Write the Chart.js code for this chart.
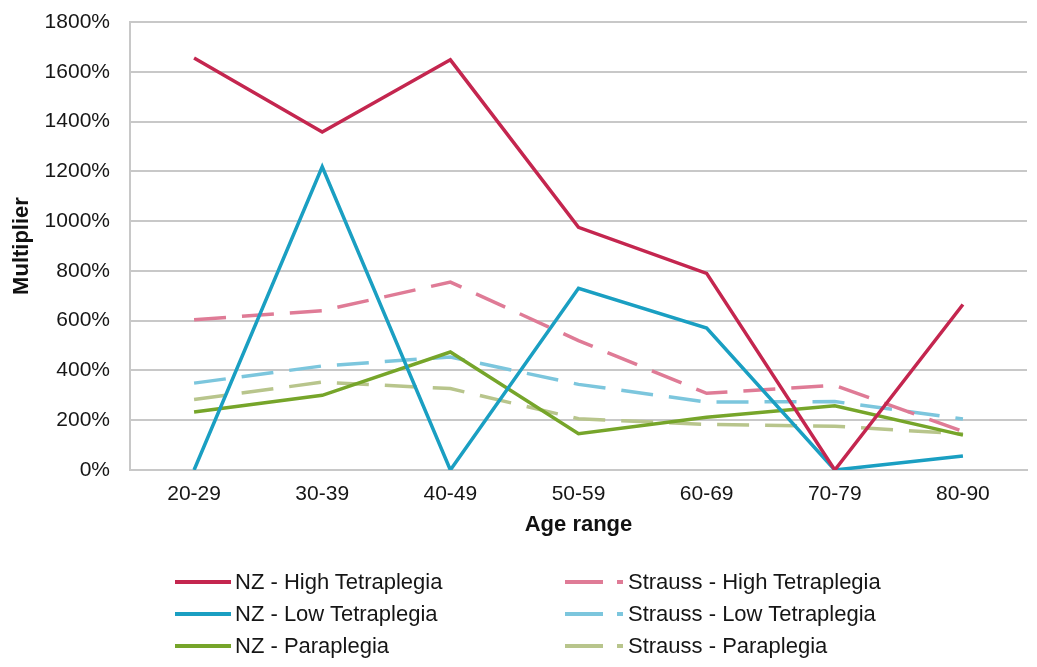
<!DOCTYPE html>
<html>
<head>
<meta charset="utf-8">
<script src="https://cdn.jsdelivr.net/npm/chart.js@4.4.1/dist/chart.umd.min.js"></script>
<style>
  html, body { margin: 0; padding: 0; background: #ffffff; }
  #wrap { position: relative; width: 1037px; height: 667px; }
  #c { position: absolute; left: 0; top: 0; }
  .leg { position: absolute; font-family: "Liberation Sans", Arial, sans-serif; font-size: 22px; color: #161616; white-space: nowrap; }
  .leg svg { position: absolute; left: 0; top: 0; }
  .leg span { position: absolute; top: 0; line-height: 26px; }
</style>
</head>
<body>
<div id="wrap">
  <canvas id="c" width="1037" height="667"></canvas>
  <div id="legend"></div>
</div>
<script>
const categories = ["20-29", "30-39", "40-49", "50-59", "60-69", "70-79", "80-90"];

const nzHighTetraplegia      = [1655, 1358, 1648, 975, 790, 0, 665];
const nzLowTetraplegia       = [0, 1218, 0, 730, 570, 0, 56];
const nzParaplegia           = [233, 300, 474, 146, 212, 258, 140];
const straussHighTetraplegia = [604, 640, 755, 520, 308, 340, 155];
const straussLowTetraplegia  = [349, 418, 454, 344, 273, 275, 205];
const straussParaplegia      = [283, 353, 327, 206, 183, 176, 145];

const seriesNames = [
  "NZ - High Tetraplegia", "NZ - Low Tetraplegia", "NZ - Paraplegia",
  "Strauss - High Tetraplegia", "Strauss - Low Tetraplegia", "Strauss - Paraplegia"
];
const yTicks = { min: 0, max: 1800, step: 200 };

const colors = ["#c4264f", "#1a9fc2", "#76a52a", "#df7b96", "#7cc6dd", "#b8c58c"];
const seriesData = [nzHighTetraplegia, nzLowTetraplegia, nzParaplegia,
                    straussHighTetraplegia, straussLowTetraplegia, straussParaplegia];

const datasets = seriesData.map((d, i) => ({
  label: seriesNames[i],
  data: d,
  borderColor: colors[i],
  backgroundColor: colors[i],
  borderWidth: 3.5,
  borderDash: i >= 3 ? [32, 16] : [],
  pointRadius: 0,
  pointHoverRadius: 0,
  tension: 0,
  fill: false,
  order: i >= 3 ? 1 : 0
}));

const gridColor = "#c8c8c8";
const tickFont = { family: "'Liberation Sans', Arial, sans-serif", size: 21 };
const titleFont = { family: "'Liberation Sans', Arial, sans-serif", size: 22, weight: "bold" };

new Chart(document.getElementById("c"), {
  type: "line",
  data: { labels: categories, datasets: datasets },
  options: {
    responsive: false,
    animation: false,
    events: [],
    layout: { padding: { left: 0, right: 10, top: 22, bottom: 129 } },
    plugins: { legend: { display: false }, tooltip: { enabled: false } },
    scales: {
      x: {
        offset: true,
        grid: { display: false, drawTicks: false },
        border: { display: true, color: gridColor, width: 2 },
        ticks: { color: "#161616", font: tickFont, padding: 12, maxRotation: 0 },
        title: { display: true, text: "Age range", color: "#111", font: titleFont, padding: { top: 0, bottom: 0 } },
        afterFit: (s) => { s.height = 68; }
      },
      y: {
        min: yTicks.min, max: yTicks.max,
        grid: { color: gridColor, lineWidth: 2, drawTicks: false },
        border: { display: true, color: gridColor, width: 2 },
        ticks: { stepSize: yTicks.step, color: "#161616", font: tickFont, padding: 20,
                 callback: (v) => v + "%" },
        title: { display: true, text: "Multiplier", color: "#111", font: titleFont, padding: { top: 9, bottom: 0 } },
        afterFit: (s) => { s.width = 130; s.paddingTop = 0; s.paddingBottom = 0; }
      }
    }
  }
});

// legend (two columns, three rows)
const legend = document.getElementById("legend");
const rowY = [569, 601, 633];
seriesNames.forEach((name, i) => {
  const col = i < 3 ? 0 : 1;
  const row = i % 3;
  const div = document.createElement("div");
  div.className = "leg";
  const x0 = col === 0 ? 175 : 565;
  div.style.left = x0 + "px";
  div.style.top = rowY[row] + "px";
  div.style.width = "330px";
  div.style.height = "26px";
  const dash = col === 0 ? "" : ' stroke-dasharray="38 14 6 100"';
  div.innerHTML = '<svg width="64" height="26"><line x1="0" y1="13" x2="' + (col === 0 ? 56 : 58) +
    '" y2="13" stroke="' + colors[i] + '" stroke-width="4"' + dash + '/></svg>' +
    '<span style="left:' + (col === 0 ? 60 : 63) + 'px">' + name + '</span>';
  legend.appendChild(div);
});
</script>
</body>
</html>
